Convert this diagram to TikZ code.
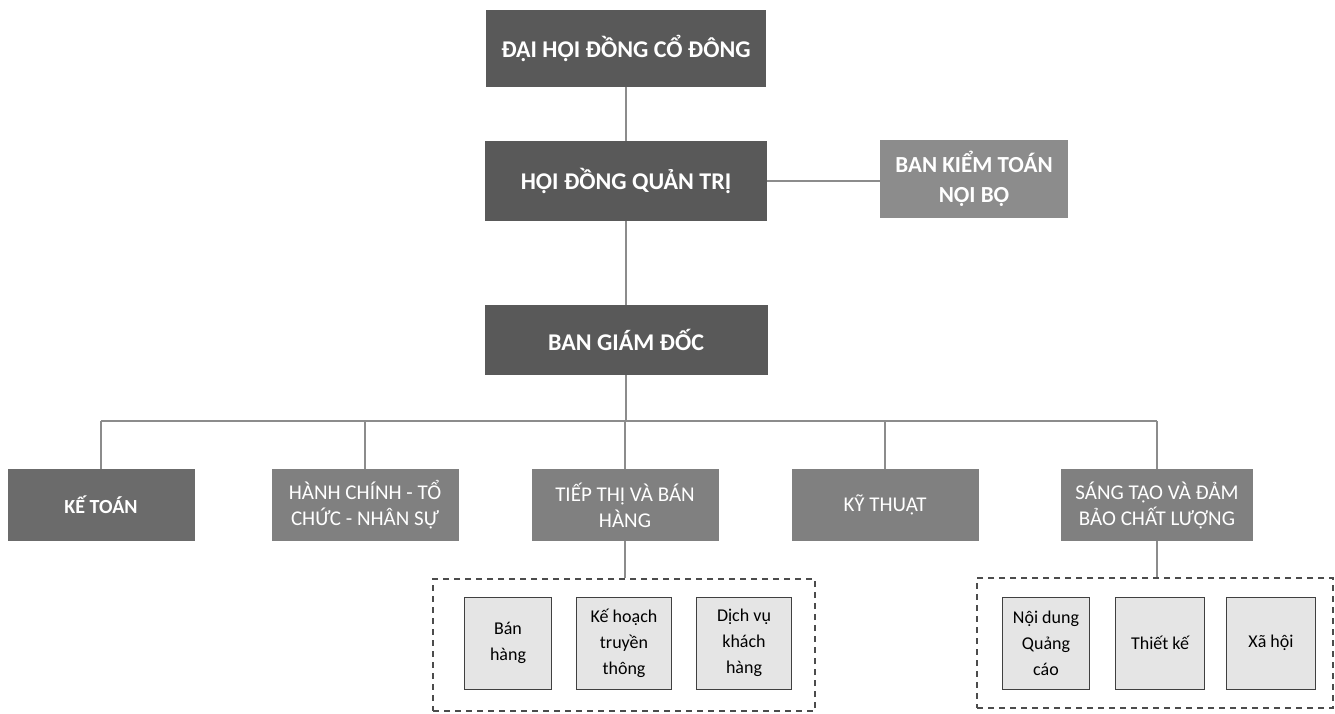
\documentclass[tikz,border=0pt]{standalone}
\usepackage{fontspec}
\setmainfont{Carlito}
\begin{document}
\begin{tikzpicture}[x=1pt,y=-1pt,
  dark/.style={draw=none,fill=black!65,text=white,font=\bfseries\fontsize{24}{28}\selectfont,align=center,inner sep=0pt},
  mid/.style={draw=none,fill=black!50,text=white,font=\fontsize{21}{26}\selectfont,align=center,inner sep=0pt,minimum height=72pt,minimum width=187pt},
  midb/.style={mid,fill=black!58,font=\bfseries\fontsize{20}{26}\selectfont},
  sub/.style={draw=black!75,line width=1pt,fill=black!10,text=black,font=\fontsize{18}{26}\selectfont,align=center,inner sep=0pt,minimum height=92pt},
  grp/.style={draw=black!70,line width=1.3pt,dash pattern=on 6pt off 5pt,inner sep=0pt},
  conn/.style={draw=black!45,line width=1.2pt}]
\useasboundingbox (0,0) rectangle (1335,713);
\fill[white] (0,0) rectangle (1335,713);
% top chain
\node[dark,minimum width=280pt,minimum height=77pt] (dhcd) at (626,48) {ĐẠI HỘI ĐỒNG CỔ ĐÔNG};
\node[dark,minimum width=282pt,minimum height=80pt] (hdqt) at (626,181) {HỘI ĐỒNG QUẢN TRỊ};
\node[dark,fill=black!45,font=\bfseries\fontsize{23}{30}\selectfont,minimum width=188pt,minimum height=78pt] (bkt) at (974,179) {BAN KIỂM TOÁN\\NỘI BỘ};
\node[dark,minimum width=283pt,minimum height=70pt] (bgd) at (626,340) {BAN GIÁM ĐỐC};
% departments
\node[midb] (kt) at (101,505) {KẾ TOÁN};
\node[mid] (hc) at (365,505) {HÀNH CHÍNH - TỔ\\CHỨC - NHÂN SỰ};
\node[mid] (tt) at (625,505) {TIẾP THỊ VÀ BÁN\\HÀNG};
\node[mid] (kth) at (885,505) {KỸ THUẬT};
\node[mid,minimum width=192pt] (st) at (1157,505) {SÁNG TẠO VÀ ĐẢM\\BẢO CHẤT LƯỢNG};
% groups
\node[grp,minimum width=382pt,minimum height=132pt] (g1) at (624,645) {};
\node[grp,minimum width=356pt,minimum height=130pt] (g2) at (1155,643) {};
\node[sub,minimum width=87pt] (bh) at (508,643) {Bán\\hàng};
\node[sub,minimum width=95pt] (kh) at (624,643) {Kế hoạch\\truyền\\thông};
\node[sub,minimum width=95pt] (dv) at (744,643) {Dịch vụ\\khách\\hàng};
\node[sub,minimum width=87pt] (nd) at (1046,643) {Nội dung\\Quảng\\cáo};
\node[sub,minimum width=89pt] (tk) at (1160,643) {Thiết kế};
\node[sub,minimum width=89pt] (xh) at (1271,643) {Xã hội};
% connectors
\coordinate (busL) at (101,421);
\coordinate (busR) at (1157,421);
\draw[conn] (dhcd.south) -- (hdqt.north);
\draw[conn] (hdqt.south) -- (bgd.north);
\draw[conn] (hdqt.east) -- (hdqt.east -| bkt.west);
\draw[conn] (bgd.south) -- (bgd.south |- busL);
\draw[conn] (busL) -- (busR);
\draw[conn] (busL) -- (kt.north);
\draw[conn] (hc.north |- busL) -- (hc.north);
\draw[conn] (tt.north |- busL) -- (tt.north);
\draw[conn] (kth.north |- busL) -- (kth.north);
\draw[conn] (busR) -- (st.north);
\draw[conn] (tt.south) -- (tt.south |- g1.north);
\draw[conn] (st.south) -- (st.south |- g2.north);
\end{tikzpicture}
\end{document}
